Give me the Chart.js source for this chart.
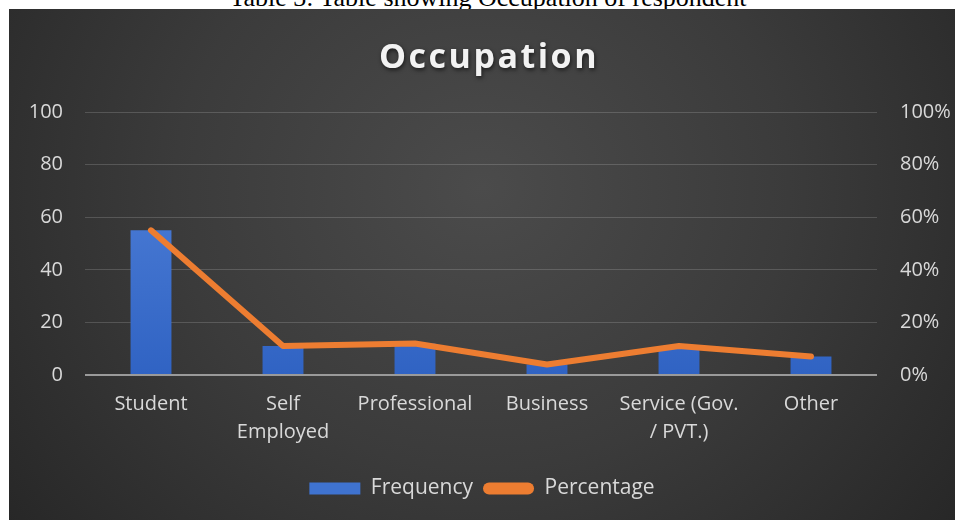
<!DOCTYPE html>
<html>
<head>
<meta charset="utf-8">
<script src="https://cdn.jsdelivr.net/npm/chart.js@4"></script>
<style>
  html, body { margin: 0; padding: 0; background: #fff; }
  body { width: 955px; height: 520px; position: relative; overflow: hidden; }
  #caption {
    position: absolute; left: 0; top: -15px; width: 976px; text-align: center;
    font: 26px/26px "Liberation Serif", "DejaVu Serif", serif; color: #000;
  }
  #frame {
    position: absolute; left: 9px; top: 9px; width: 946px; height: 511px;
    background: radial-gradient(ellipse 65% 110% at 50% 35%, #4b4b4b 0%, #3b3b3b 50%, #262626 100%);
  }
</style>
</head>
<body>
<div id="caption">Table 3: Table showing Occupation of respondent</div>
<div id="frame"><canvas id="grafik" width="946" height="511"></canvas></div>
<script>
const kategori = [["Student"], ["Self", "Employed"], ["Professional"], ["Business"], ["Service (Gov.", "/ PVT.)"], ["Other"]];
const frekuensi = [55, 11, 12, 4, 11, 7];
const persentase = [0.55, 0.11, 0.12, 0.04, 0.11, 0.07];
const tickKiri = [0, 20, 40, 60, 80, 100];
const tickKanan = [0, 0.2, 0.4, 0.6, 0.8, 1];

const fontLabel = { family: "'Open Sans', sans-serif", size: 20, lineHeight: 1.4 };
const fontLegend = { family: "'Open Sans', sans-serif", size: 21 };
const warnaTeks = "#d9d9d9";

// judul dengan jarak huruf, digambar manual
const judulPlugin = {
  id: "judul",
  afterDraw(chart) {
    const ctx = chart.ctx;
    ctx.save();
    ctx.font = "bold 34px 'Open Sans', sans-serif";
    ctx.letterSpacing = "2.5px";
    ctx.fillStyle = "#f2f2f2";
    ctx.textAlign = "center";
    ctx.textBaseline = "middle";
    ctx.shadowColor = "rgba(0,0,0,0.6)";
    ctx.shadowBlur = 4;
    ctx.shadowOffsetX = 1;
    ctx.shadowOffsetY = 2;
    ctx.fillText("Occupation", 480, 49);
    ctx.restore();
  }
};

function warnaBatang(context) {
  const area = context.chart.chartArea;
  if (!area) return "#4472c4";
  const g = context.chart.ctx.createLinearGradient(0, area.top, 0, area.bottom);
  g.addColorStop(0, "#5585dc");
  g.addColorStop(1, "#3063c3");
  return g;
}

const ctx = document.getElementById("grafik").getContext("2d");
new Chart(ctx, {
  data: {
    labels: kategori,
    datasets: [
      {
        type: "line",
        label: "Percentage",
        data: persentase,
        yAxisID: "y1",
        borderColor: "#ed7d31",
        backgroundColor: "#ed7d31",
        borderWidth: 6,
        borderCapStyle: "round",
        borderJoinStyle: "round",
        pointRadius: 0,
        tension: 0,
        order: 0
      },
      {
        type: "bar",
        label: "Frequency",
        data: frekuensi,
        yAxisID: "y",
        backgroundColor: warnaBatang,
        categoryPercentage: 1,
        barPercentage: 0.31,
        order: 1
      }
    ]
  },
  options: {
    responsive: false,
    animation: false,
    layout: { padding: { top: 103, bottom: 11, left: 0, right: 0 } },
    plugins: {
      tooltip: { enabled: false },
      legend: {
        position: "bottom",
        labels: {
          color: warnaTeks,
          font: fontLegend,
          boxWidth: 51,
          boxHeight: 12,
          padding: 10,
          useBorderRadius: true,
          generateLabels(chart) {
            return [
              { text: "Frequency", fillStyle: "#3f73d0", strokeStyle: "#3f73d0", lineWidth: 0, borderRadius: 0, datasetIndex: 1, fontColor: warnaTeks },
              { text: "Percentage", fillStyle: "#ed7d31", strokeStyle: "#ed7d31", lineWidth: 0, borderRadius: 6, datasetIndex: 0, fontColor: warnaTeks }
            ];
          }
        }
      }
    },
    scales: {
      x: {
        grid: { display: false, drawTicks: false },
        border: { display: false },
        ticks: { color: warnaTeks, font: fontLabel, padding: 15, maxRotation: 0, autoSkip: false },
        afterFit(s) { s.height = 93; }
      },
      y: {
        position: "left",
        min: 0, max: 100,
        afterBuildTicks(s) { s.ticks = tickKiri.map(v => ({ value: v })); },
        grid: {
          drawTicks: false,
          color: c => (c.tick && c.tick.value === 0) ? "#9a9a9a" : "rgba(255,255,255,0.16)",
          lineWidth: c => (c.tick && c.tick.value === 0) ? 2 : 1
        },
        border: { display: false },
        ticks: { color: warnaTeks, font: fontLabel, padding: 22 },
        afterFit(s) { s.width = 76; }
      },
      y1: {
        position: "right",
        min: 0, max: 1,
        afterBuildTicks(s) { s.ticks = tickKanan.map(v => ({ value: v })); },
        grid: { display: false, drawTicks: false },
        border: { display: false },
        ticks: { color: warnaTeks, font: fontLabel, padding: 23, callback: v => Math.round(v * 100) + "%" },
        afterFit(s) { s.width = 78; }
      }
    }
  },
  plugins: [judulPlugin]
});
</script>
</body>
</html>
